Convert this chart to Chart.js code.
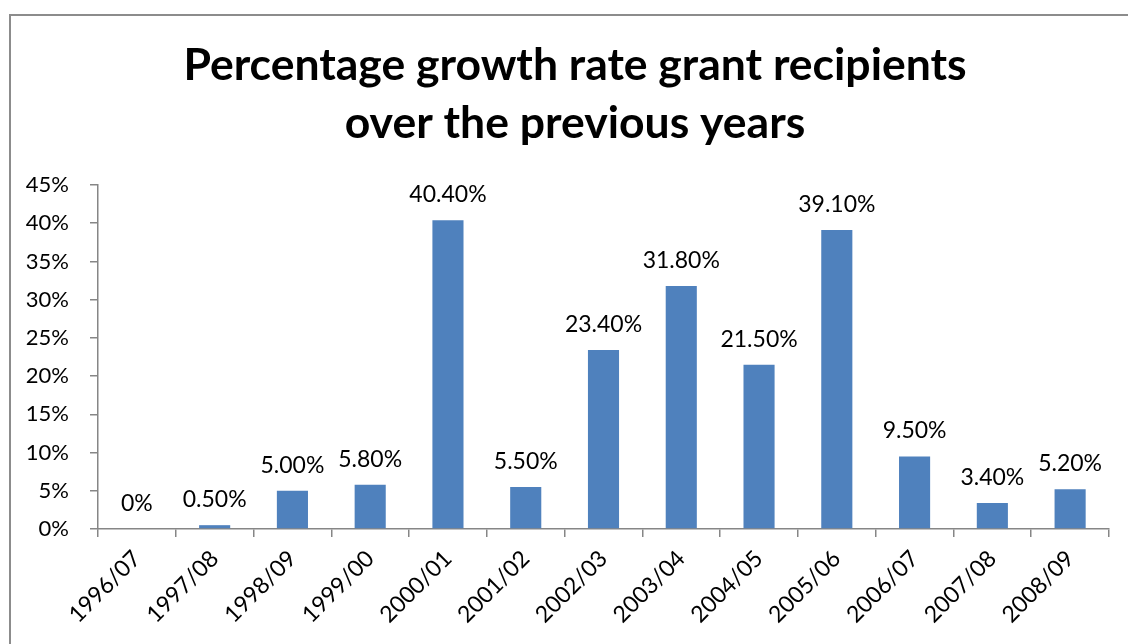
<!DOCTYPE html>
<html>
<head>
<meta charset="utf-8">
<script src="https://cdn.jsdelivr.net/npm/chart.js@4/dist/chart.umd.min.js"></script>
<style>
  html, body { margin: 0; padding: 0; background: #fff; overflow: hidden; }
</style>
</head>
<body>
<canvas id="growthChart" width="1128" height="644"></canvas>
<script>
const years = ['1996/07', '1997/08', '1998/09', '1999/00', '2000/01', '2001/02', '2002/03',
  '2003/04', '2004/05', '2005/06', '2006/07', '2007/08', '2008/09'];
const growthRates = [0, 0.5, 5.0, 5.8, 40.4, 5.5, 23.4, 31.8, 21.5, 39.1, 9.5, 3.4, 5.2];
const titleLines = ['Percentage growth rate grant recipients', 'over the previous years'];

const fontFamily = 'Lato, "Open Sans", sans-serif';

function labelFor(v) {
  return v === 0 ? '0%' : v.toFixed(2) + '%';
}

// chart frame (only top and left edges are in view) and the two-line title
const frameAndTitle = {
  id: 'frameAndTitle',
  beforeDraw(chart) {
    const ctx = chart.ctx;
    ctx.save();
    ctx.strokeStyle = '#8c8c8c';
    ctx.lineWidth = 2;
    ctx.beginPath();
    ctx.moveTo(10, chart.height + 5);
    ctx.lineTo(10, 15);
    ctx.lineTo(chart.width + 5, 15);
    ctx.stroke();

    ctx.fillStyle = '#000';
    ctx.font = 'bold 44.5px ' + fontFamily;
    ctx.textAlign = 'center';
    ctx.textBaseline = 'alphabetic';
    ctx.fillText(titleLines[0], 575, 80);
    ctx.fillText(titleLines[1], 575, 138);
    ctx.restore();
  }
};

// draws the value above each bar
const barLabels = {
  id: 'barLabels',
  afterDatasetsDraw(chart) {
    const ctx = chart.ctx;
    const meta = chart.getDatasetMeta(0);
    ctx.save();
    ctx.font = '23px ' + fontFamily;
    ctx.fillStyle = '#000';
    ctx.textAlign = 'center';
    ctx.textBaseline = 'alphabetic';
    meta.data.forEach((bar, i) => {
      ctx.fillText(labelFor(growthRates[i]), bar.x, bar.y - 18);
    });
    ctx.restore();
  }
};

new Chart(document.getElementById('growthChart'), {
  type: 'bar',
  data: {
    labels: years,
    datasets: [{
      data: growthRates,
      backgroundColor: '#4f81bd',
      borderWidth: 0,
      barPercentage: 0.4,
      categoryPercentage: 1.0
    }]
  },
  options: {
    responsive: false,
    animation: false,
    layout: { padding: { left: 18, right: 19, top: 185, bottom: 0 } },
    plugins: {
      legend: { display: false },
      tooltip: { enabled: false },
      title: { display: false }
    },
    scales: {
      x: {
        grid: { display: true, drawOnChartArea: false, color: '#868686', tickLength: 8, lineWidth: 1.5 },
        border: { color: '#868686', width: 1.5 },
        ticks: {
          color: '#000',
          font: { family: fontFamily, size: 23 },
          minRotation: 45,
          maxRotation: 45,
          padding: 8
        },
        afterFit(scale) { scale.height = 115; }
      },
      y: {
        min: 0,
        max: 45,
        grid: { display: true, drawOnChartArea: false, color: '#868686', tickLength: 8, lineWidth: 1.5 },
        border: { color: '#868686', width: 1.5 },
        ticks: {
          stepSize: 5,
          color: '#000',
          font: { family: fontFamily, size: 22 },
          padding: 21,
          callback: v => v + '%'
        },
        afterFit(scale) { scale.width = 80; }
      }
    }
  },
  plugins: [frameAndTitle, barLabels]
});
</script>
</body>
</html>
